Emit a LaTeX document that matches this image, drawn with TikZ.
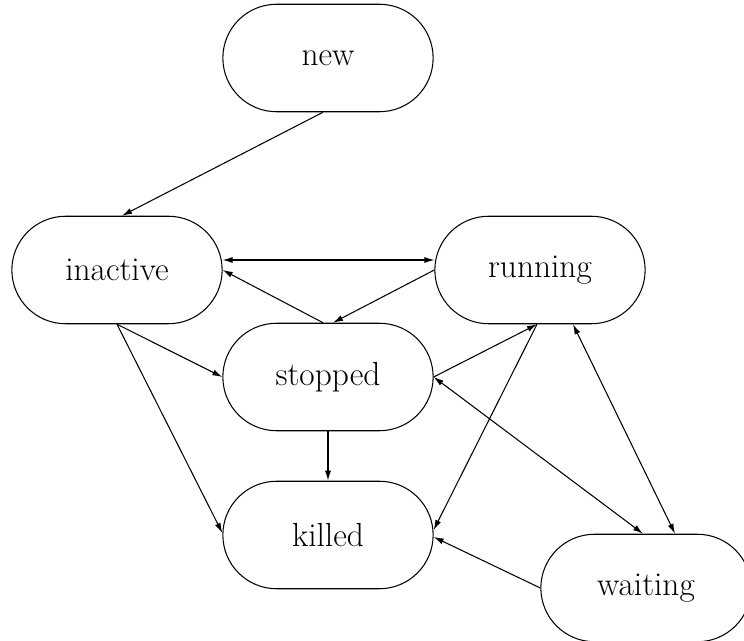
\documentclass[tikz,border=0pt]{standalone}
\usepackage{tikz}
\usetikzlibrary{arrows.meta,shapes.misc}

\begin{document}
\begin{tikzpicture}[semithick,
  state/.style={draw,rounded rectangle,minimum width=4.44cm,minimum height=2.15cm,
    font=\fontsize{19}{23}\selectfont},
  trans/.style={-{Latex[length=2mm,width=1.2mm]}},
  both/.style={{Latex[length=2mm,width=1.2mm]}-{Latex[length=2mm,width=1.2mm]}}]
  \useasboundingbox (0,0) rectangle (14.88,12.82);
  \node[state] (new)      at (6.56,11.66) {new};
  \node[state] (inactive) at (2.34,7.42)  {inactive};
  \node[state] (running)  at (10.80,7.42) {running};
  \node[state] (stopped)  at (6.56,5.28)  {stopped};
  \node[state] (killed)   at (6.56,2.12)  {killed};
  \node[state] (waiting)  at (12.92,1.06) {waiting};

  \draw[trans] ([xshift=-1mm]new.south) -- ([xshift=1mm]inactive.north);
  \draw[both] ([yshift=2mm]inactive.east) -- ([yshift=2mm]running.west);
  \draw[trans] ([xshift=-1mm]stopped.north) -- (inactive.east);
  \draw[trans] (running.west) -- ([xshift=1mm]stopped.north);
  \draw[trans] (inactive.south) -- (stopped.west);
  \draw[trans] (inactive.south) -- ([yshift=0.04cm]killed.west);
  \draw[trans] (stopped.south) -- (killed.north);
  \draw[trans] (stopped.east) -- ([xshift=-0.06cm]running.south);
  \draw[both] (stopped.east) -- ([xshift=-0.06cm]waiting.north);
  \draw[trans] ([xshift=-0.06cm]running.south) -- ([yshift=0.1cm]killed.east);
  \draw[both] ([xshift=0.66cm]running.south) -- ([xshift=0.58cm]waiting.north);
  \draw[trans] (waiting.west) -- ([yshift=-0.04cm]killed.east);
\end{tikzpicture}
\end{document}
